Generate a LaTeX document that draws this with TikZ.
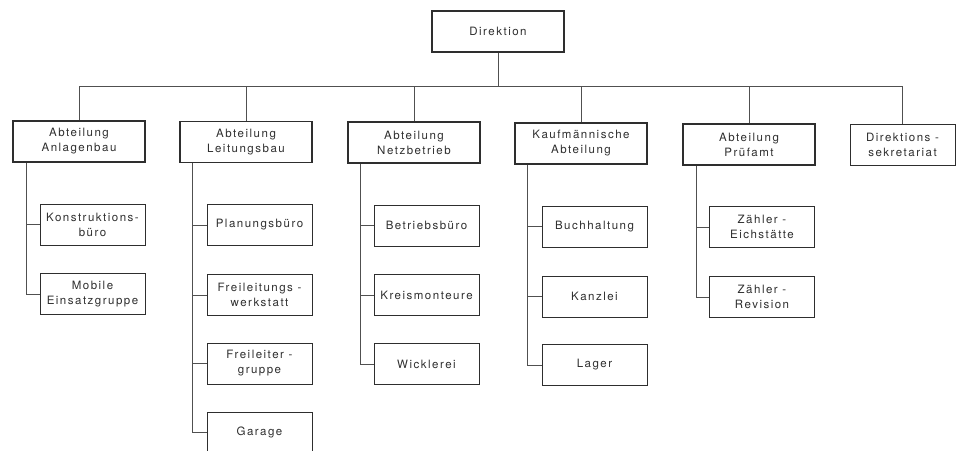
\documentclass[tikz,border=0pt]{standalone}
\usepackage{fontspec}
\setmainfont{TeX Gyre Heros}[LetterSpace=13]
\definecolor{ink}{HTML}{2E2E2E}
\definecolor{lin}{HTML}{505050}
\begin{document}
\begin{tikzpicture}[x=1pt,y=-1pt,
  every node/.style={font=\fontsize{11.5}{15}\selectfont, text=ink, align=center, inner sep=0pt},
  lvl/.style={draw=ink, line width=1.5pt, minimum width=132pt, minimum height=41pt},
  thinlvl/.style={draw=ink, line width=0.8pt, minimum width=105pt, minimum height=41pt},
  sub/.style={draw=ink, line width=0.8pt, minimum width=105pt, minimum height=41pt},
  conn/.style={draw=lin, line width=0.8pt}]
\clip (0,0) rectangle (961,450);
\fill[white] (0,0) rectangle (961,450);

% top
\node[lvl] (dir) at (498,31.5) {Direktion};

% level 2
\node[lvl] (anl) at (79,141.5) {Abteilung\\Anlagenbau};
\node[lvl] (lei) at (246,142) {Abteilung\\Leitungsbau};
\node[lvl] (net) at (414,142.5) {Abteilung\\Netzbetrieb};
\node[lvl] (kau) at (581,143.5) {Kaufmännische\\Abteilung};
\node[lvl] (pru) at (749,144.5) {Abteilung\\Prüfamt};
\node[thinlvl] (sek) at (902.5,144.5) {Direktions -\\sekretariat};

% bus
\coordinate (bus) at (dir.south |- 0,86.5);
\draw[conn] (dir.south) -- (bus);
\draw[conn] (anl.north) |- (bus) -| (sek.north);
\draw[conn] (lei.north) -- (lei.north |- bus);
\draw[conn] (net.north) -- (net.north |- bus);
\draw[conn] (kau.north) -- (kau.north |- bus);
\draw[conn] (pru.north) -- (pru.north |- bus);

% column 1
\node[sub] (a1) at (92.5,224.5) {Konstruktions-\\büro};
\node[sub] (a2) at (92.5,294) {Mobile\\Einsatzgruppe};
\coordinate (t1) at ([xshift=14pt]anl.south west);
\draw[conn] (t1) |- (a2.west);
\draw[conn] (a1.west) -- (a1.west -| t1);

% column 2
\node[sub] (l1) at (259.5,225) {Planungsbüro};
\node[sub] (l2) at (259.5,295) {Freileitungs -\\werkstatt};
\node[sub] (l3) at (259.5,363.5) {Freileiter -\\gruppe};
\node[sub] (l4) at (259.5,432.5) {Garage};
\coordinate (t2) at ([xshift=13pt]lei.south west);
\draw[conn] (t2) |- (l4.west);
\draw[conn] (l1.west) -- (l1.west -| t2);
\draw[conn] (l2.west) -- (l2.west -| t2);
\draw[conn] (l3.west) -- (l3.west -| t2);

% column 3
\node[sub] (n1) at (426.5,225.5) {Betriebsbüro};
\node[sub] (n2) at (426.5,295) {Kreismonteure};
\node[sub] (n3) at (426.5,364) {Wicklerei};
\coordinate (t3) at ([xshift=13pt]net.south west);
\draw[conn] (t3) |- (n3.west);
\draw[conn] (n1.west) -- (n1.west -| t3);
\draw[conn] (n2.west) -- (n2.west -| t3);

% column 4
\node[sub] (k1) at (594.5,226.5) {Buchhaltung};
\node[sub] (k2) at (594.5,296.5) {Kanzlei};
\node[sub] (k3) at (594.5,365) {Lager};
\coordinate (t4) at ([xshift=13pt]kau.south west);
\draw[conn] (t4) |- (k3.west);
\draw[conn] (k1.west) -- (k1.west -| t4);
\draw[conn] (k2.west) -- (k2.west -| t4);

% column 5
\node[sub] (p1) at (762,227) {Zähler -\\Eichstätte};
\node[sub] (p2) at (762,297) {Zähler -\\Revision};
\coordinate (t5) at ([xshift=14pt]pru.south west);
\draw[conn] (t5) |- (p2.west);
\draw[conn] (p1.west) -- (p1.west -| t5);
\end{tikzpicture}
\end{document}
